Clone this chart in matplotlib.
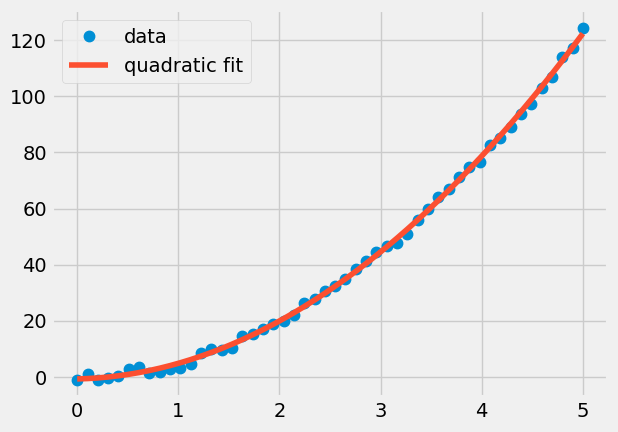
import numpy as np
import matplotlib
matplotlib.use("Agg")
import matplotlib.pyplot as plt

plt.style.use("fivethirtyeight")

x = np.linspace(0, 5, 50)
y = np.array([
    -1.0, 1.0, -1.0, -0.3, 0.5, 2.8, 3.5, 1.3, 1.7, 3.0,
    3.2, 4.5, 8.5, 10.0, 9.5, 10.3, 14.5, 15.3, 17.0, 18.8,
    20.0, 22.0, 26.5, 27.8, 30.6, 32.4, 35.0, 38.5, 41.3, 44.5,
    46.7, 47.7, 51.0, 56.0, 59.8, 64.1, 67.0, 71.2, 74.8, 76.6,
    82.6, 85.0, 89.0, 93.7, 97.2, 102.9, 106.8, 114.0, 117.2, 124.3,
])

coef = np.polyfit(x, y, 2)
yfit = np.polyval(coef, x)

fig = plt.figure(figsize=(6.18, 4.32), dpi=100)
plt.subplots_adjust(left=0.084, right=0.984, bottom=0.08, top=0.976)
plt.plot(x, y, 'o', markersize=7.5, label="data")
plt.plot(x, yfit, label="quadratic fit")
plt.legend(loc="upper left")
plt.savefig("out.png", dpi=100)
